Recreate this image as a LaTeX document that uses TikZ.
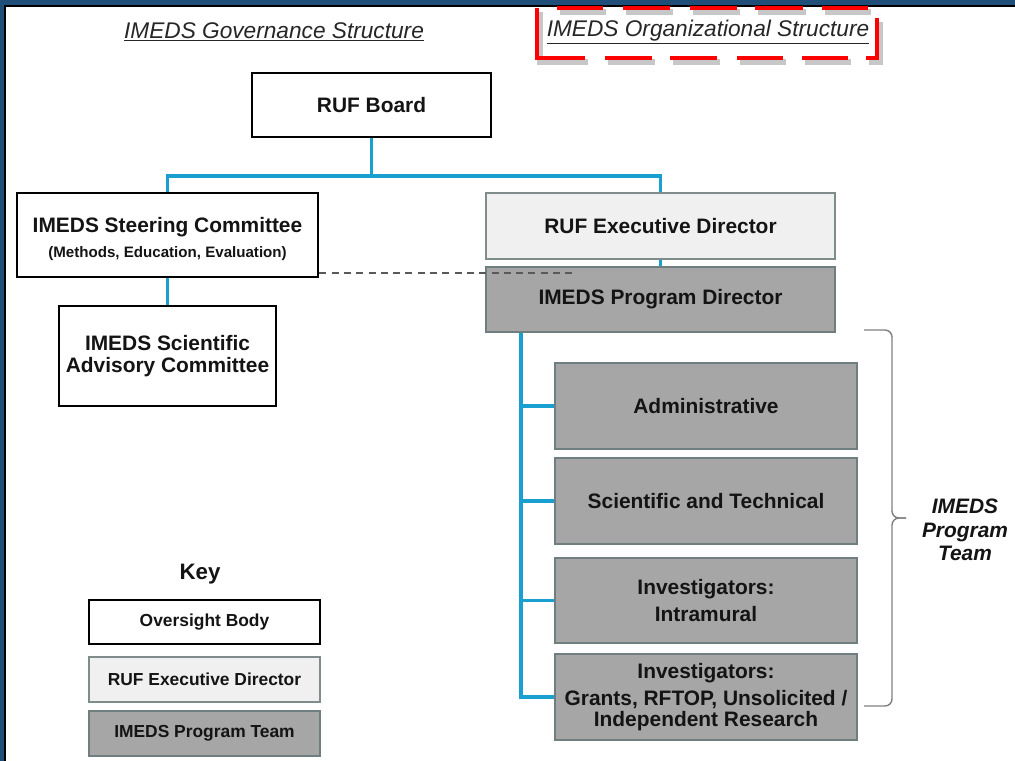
\documentclass[tikz,border=0pt]{standalone}
\usepackage{fontspec}
\setmainfont{Liberation Sans}
\definecolor{txt}{HTML}{141414}
\definecolor{ttl}{HTML}{262626}
\definecolor{lnk}{HTML}{1AA0D0}
\definecolor{edf}{HTML}{F0F0F0}
\definecolor{edb}{HTML}{7F8C8C}
\definecolor{tmf}{HTML}{A6A6A6}
\definecolor{tmb}{HTML}{6F7F80}
\definecolor{frameblue}{HTML}{1F4E79}
\newcommand\fmain{\fontsize{11.9}{13.5}\selectfont\bfseries}
\newcommand\fsubt{\fontsize{8.6}{10}\selectfont\bfseries}
\newcommand\fkeyb{\fontsize{9.9}{12}\selectfont\bfseries}
\newcommand\fttl{\fontsize{12.9}{15}\selectfont\itshape}
\begin{document}
\begin{tikzpicture}[x=0.02cm,y=-0.02cm,
  over/.style={draw=black, line width=1.6pt, fill=white, align=center, inner sep=0pt, text=txt},
  edbox/.style={draw=edb, line width=1.4pt, fill=edf, align=center, inner sep=0pt, text=txt},
  teambox/.style={draw=tmb, line width=1.4pt, fill=tmf, align=center, inner sep=0pt, text=txt},
  conn/.style={draw=lnk, line width=1.8pt},
  dashln/.style={draw=black!65, line width=0.6pt, dash pattern=on 4pt off 3pt},
  bracel/.style={draw=black!50, line width=0.8pt, rounded corners=4pt},
  reddash/.style={draw=red, line width=2.8pt},
  shaddash/.style={draw=black!22, line width=3.2pt},
]
\useasboundingbox (0,0) rectangle (1015,761);
\fill[white] (0,0) rectangle (1015,761);
\fill[frameblue] (0,0) rectangle (1015,5);
\fill[frameblue] (0,0) rectangle (4,761);
\fill[black] (4,5) rectangle (1015,7);
\fill[black] (4,5) rectangle (6,761);

% titles
\node[font=\fttl, text=ttl] (gov) at (274,32) {\underline{IMEDS Governance Structure}};
\node[font=\fttl, text=ttl] (org) at (708,32) {\underline{IMEDS Organizational Structure}};

% red dashed highlight (shadow, then red)
\foreach \st/\dx/\dy in {shaddash/3/4, reddash/0/0}{
  \begin{scope}[shift={(\dx,\dy)}]
    \draw[\st] (537,8) -- (537,58) -- (585,58);
    \foreach \a/\b in {557/603, 623/670, 690/737, 755/803, 822/868}
      \draw[\st] (\a,8) -- (\b,8);
    \foreach \a/\b in {605/652, 670/717, 737/783, 802/848}
      \draw[\st] (\a,58) -- (\b,58);
    \draw[\st] (866,58) -- (877,58) -- (877,18);
  \end{scope}
}

% oversight bodies
\node[over, font=\fmain, minimum width=4.78cm, minimum height=1.28cm] (board) at (371.5,105) {RUF Board};
\node[over, minimum width=6.02cm, minimum height=1.68cm] (steer) at (167.5,235)
  {{\fmain\rule{0pt}{13.2pt}IMEDS Steering Committee}\\[2pt]{\fsubt (Methods, Education, Evaluation)}};
\node[over, font=\fontsize{11.9}{12.5}\selectfont\bfseries, minimum width=4.34cm, minimum height=2.0cm] (sac) at (167.5,356)
  {IMEDS Scientific\\Advisory Committee};

% executive / program
\node[edbox, font=\fmain, minimum width=6.98cm, minimum height=1.32cm] (exec) at (660.5,226) {RUF Executive Director};
\node[teambox, font=\fmain, minimum width=6.98cm, minimum height=1.3cm] (pd) at (660.5,299.5) {IMEDS Program Director};
\node[teambox, font=\fmain, minimum width=6.04cm, minimum height=1.72cm] (admin) at (706,406) {Administrative};
\node[teambox, font=\fmain, minimum width=6.04cm, minimum height=1.72cm] (scitech) at (706,501) {Scientific and Technical};
\node[teambox, font=\fontsize{11.9}{15.5}\selectfont\bfseries, minimum width=6.04cm, minimum height=1.7cm] (intra) at (706,600.5) {Investigators:\\Intramural};
\node[teambox, font=\fontsize{11.9}{11.6}\selectfont\bfseries, minimum width=6.04cm, minimum height=1.72cm] (grants) at (706,697)
  {Investigators:\\[4pt]Grants, RFTOP, Unsolicited /\\Independent Research};

% connectors
\coordinate (bus) at (0,176);
\coordinate (trunk) at (521,0);
\coordinate (dashend) at (575,273);
\draw[conn] (board.south) -- (board.south |- bus) -| (steer.north);
\draw[conn] (board.south |- bus) -| (exec.north);
\draw[conn] (steer.south) -- (sac.north);
\draw[conn] (exec.south) -- (pd.north);
\draw[conn] (pd.south -| trunk) |- (grants.west);
\foreach \n in {admin,scitech,intra} \draw[conn] (\n.west -| trunk) -- (\n.west);
\draw[dashln] (steer.east |- dashend) -- (dashend);

% brace and team label
\coordinate (brT) at (864,330);
\coordinate (brM) at (906,518);
\coordinate (brB) at (864,706);
\draw[bracel] (brT) -- (892,330) -- (892,518) -- (brM);
\draw[bracel] (brM) -- (892,518) -- (892,706) -- (brB);
\node[font=\fontsize{11.9}{13.3}\selectfont\bfseries\itshape, text=txt, align=center] (team) at (965,530) {IMEDS\\Program\\Team};

% key
\node[font=\fontsize{12.7}{15}\selectfont\bfseries, text=txt] (key) at (200,574) {Key};
\node[over, font=\fkeyb, line width=1.2pt, minimum width=4.62cm, minimum height=0.88cm] (k1) at (204.5,622) {Oversight Body};
\node[edbox, font=\fkeyb, line width=1.2pt, minimum width=4.62cm, minimum height=0.9cm] (k2) at (204.5,679.5) {RUF Executive Director};
\node[teambox, font=\fkeyb, line width=1.2pt, minimum width=4.62cm, minimum height=0.9cm] (k3) at (204.5,733.5) {IMEDS Program Team};
\end{tikzpicture}
\end{document}
